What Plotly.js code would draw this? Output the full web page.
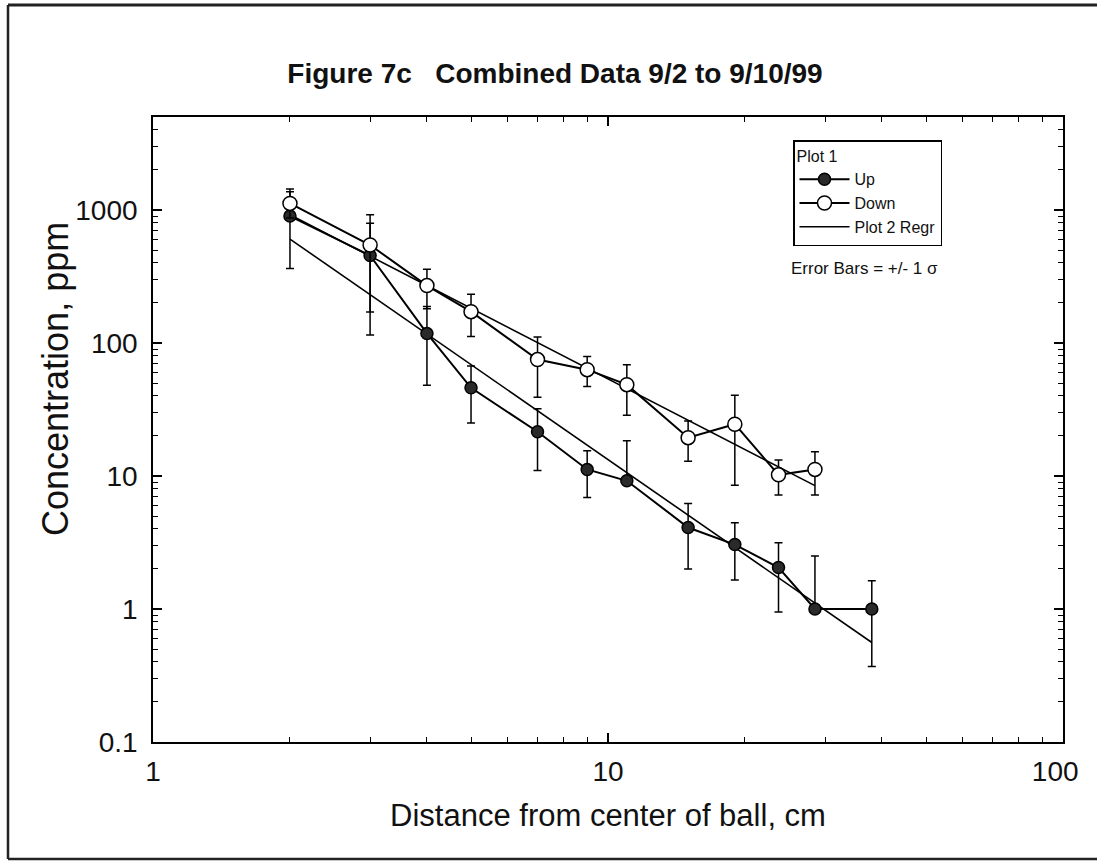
<!DOCTYPE html>
<html>
<head>
<meta charset="utf-8">
<script src="https://cdn.plot.ly/plotly-3.0.1.min.js"></script>
<style>
  html, body { margin: 0; padding: 0; background: #ffffff; }
  #chart { width: 1097px; height: 861px; }
</style>
</head>
<body>
<div id="chart"></div>
<script>
// ---- Data ----
const upDist = [2, 3, 4, 5, 7, 9, 11, 15, 19, 23.7, 28.5, 38];
const upConc = [900, 455, 118, 46, 21.5, 11.2, 9.2, 4.1, 3.05, 2.05, 1.0, 1.0];
const upErrPlus = [537, 340, 70, 21, 10.5, 4.3, 9.2, 2.1, 1.4, 1.1, 1.5, 0.63];
const upErrMinus = [537, 340, 70, 21, 10.5, 4.3, 0, 2.1, 1.4, 1.1, 0, 0.63];

const downDist = [2, 3, 4, 5, 7, 9, 11, 15, 19, 23.7, 28.5];
const downConc = [1120, 545, 270, 172, 75, 63, 48.6, 19.4, 24.5, 10.2, 11.2];
const downErr = [250, 374, 89, 60, 36, 16, 20, 6.5, 16, 3, 4];

const upRegDist = [2, 38];
const upRegConc = [604, 0.56];
const downRegDist = [2, 28.5];
const downRegConc = [920, 8.46];

const xTickVals = [1, 10, 100];
const xTickText = ["1", "10", "100\u00a0\u00a0"];
const xMinorVals = [2, 3, 4, 5, 6, 7, 8, 9, 20, 30, 40, 50, 60, 70, 80, 90];
const yTickVals = [0.1, 1, 10, 100, 1000];
const yTickText = ["0.1", "1", "10", "100", "1000"];
const yMinorVals = [0.2, 0.3, 0.4, 0.5, 0.6, 0.7, 0.8, 0.9,
                    2, 3, 4, 5, 6, 7, 8, 9,
                    20, 30, 40, 50, 60, 70, 80, 90,
                    200, 300, 400, 500, 600, 700, 800, 900,
                    2000, 3000, 4000];

const FONT = "Liberation Sans, Arial, sans-serif";

const traces = [
  {
    x: upRegDist, y: upRegConc, type: "scatter", mode: "lines",
    name: "Plot 2 Regr", showlegend: false, legendrank: 3,
    line: { color: "#000", width: 1.6 }, hoverinfo: "skip"
  },
  {
    x: downRegDist, y: downRegConc, type: "scatter", mode: "lines",
    name: "Plot 2 Regr", showlegend: true, legendrank: 3,
    line: { color: "#000", width: 1.6 }, hoverinfo: "skip"
  },
  {
    x: upDist, y: upConc, type: "scatter", mode: "lines+markers",
    name: "Up", legendrank: 1,
    line: { color: "#000", width: 2 },
    marker: { symbol: "circle", size: 12, color: "#2a2a2a", line: { color: "#000", width: 1.5 } },
    error_y: { type: "data", symmetric: false, array: upErrPlus, arrayminus: upErrMinus,
               color: "#000", thickness: 1.5, width: 4 }
  },
  {
    x: downDist, y: downConc, type: "scatter", mode: "lines+markers",
    name: "Down", legendrank: 2,
    line: { color: "#000", width: 2 },
    marker: { symbol: "circle", size: 14, color: "#fff", line: { color: "#000", width: 1.5 } },
    error_y: { type: "data", array: downErr, color: "#000", thickness: 1.5, width: 4 }
  }
];

// plot area: left 153, right 1063, top 117, bottom 742
const L = 153, R = 1097 - 1063, T = 117, B = 861 - 742;
const PW = 1097 - L - R, PH = 861 - T - B;
const px = v => (v - L) / PW;
const py = v => (861 - B - v) / PH;

const frameLine = { color: "#222", width: 2.5 };

const layout = {
  width: 1097, height: 861,
  margin: { l: L, r: R, t: T, b: B, pad: 0 },
  paper_bgcolor: "#fff", plot_bgcolor: "#fff",
  font: { family: FONT, color: "#111" },
  title: {
    text: "<b>Figure 7c   Combined Data 9/2 to 9/10/99</b>",
    font: { family: FONT, size: 28, color: "#111" },
    x: 555 / 1097, xanchor: "center", xref: "container",
    y: 1 - 73 / 861, yanchor: "middle", yref: "container"
  },
  xaxis: {
    type: "log", range: [0, 2],
    tickmode: "array", tickvals: xTickVals, ticktext: xTickText,
    ticks: "inside", ticklen: 9, tickwidth: 1.2, tickcolor: "#000",
    minor: { tickmode: "array", tickvals: xMinorVals, ticks: "inside", ticklen: 5, tickwidth: 1, tickcolor: "#000", showgrid: false },
    showline: true, linecolor: "#000", linewidth: 1.8, mirror: "ticks",
    showgrid: false, zeroline: false,
    tickfont: { family: FONT, size: 28, color: "#111" },
    ticklabelstandoff: 4, ticklabeloverflow: "allow",
    title: { text: "Distance from center of ball, cm", font: { family: FONT, size: 31, color: "#111" }, standoff: 18 }
  },
  yaxis: {
    type: "log", range: [-1, Math.log10(5000)],
    tickmode: "array", tickvals: yTickVals, ticktext: yTickText,
    ticks: "inside", ticklen: 9, tickwidth: 1.2, tickcolor: "#000",
    minor: { tickmode: "array", tickvals: yMinorVals, ticks: "inside", ticklen: 5, tickwidth: 1, tickcolor: "#000", showgrid: false },
    showline: true, linecolor: "#000", linewidth: 1.8, mirror: "ticks",
    showgrid: false, zeroline: false,
    tickfont: { family: FONT, size: 28, color: "#111" },
    ticklabelstandoff: 8
  },
  showlegend: true,
  legend: {
    title: { text: "Plot 1", font: { family: FONT, size: 16, color: "#111" } },
    x: px(793), y: py(140), xanchor: "left", yanchor: "top",
    bgcolor: "#fff", bordercolor: "#000", borderwidth: 1.5,
    font: { family: FONT, size: 16, color: "#111" },
    traceorder: "normal", itemwidth: 50, tracegroupgap: 0
  },
  annotations: [
    {
      text: "Concentration, ppm", xref: "paper", yref: "paper",
      x: px(55), y: py(379), xanchor: "center", yanchor: "middle",
      textangle: -90, showarrow: false,
      font: { family: FONT, size: 36, color: "#111" }
    },
    {
      text: "Error Bars = +/- 1 σ", xref: "paper", yref: "paper",
      x: px(789), y: py(268), xanchor: "left", yanchor: "middle",
      showarrow: false, font: { family: FONT, size: 17, color: "#111" }
    }
  ],
  shapes: [
    { type: "line", xref: "paper", yref: "paper", x0: px(8), x1: px(1097), y0: py(5), y1: py(5), line: { color: "#222", width: 3 } },
    { type: "line", xref: "paper", yref: "paper", x0: px(8), x1: px(8), y0: py(5), y1: py(859), line: frameLine },
    { type: "line", xref: "paper", yref: "paper", x0: px(8), x1: px(1097), y0: py(859), y1: py(859), line: frameLine }
  ]
};

Plotly.newPlot("chart", traces, layout, { displayModeBar: false, staticPlot: true });
</script>
</body>
</html>
